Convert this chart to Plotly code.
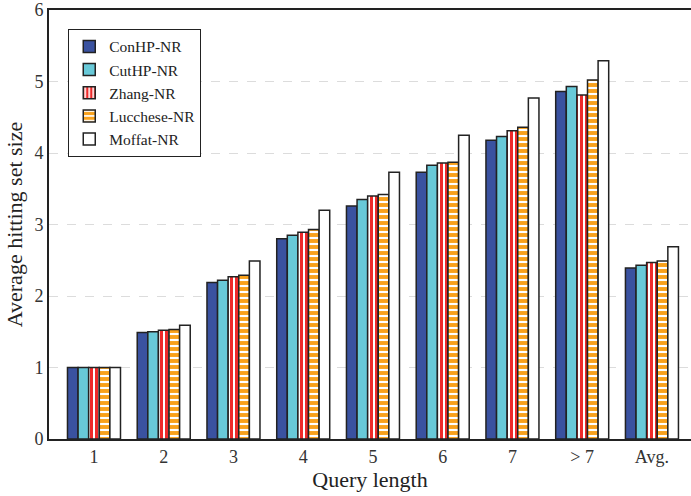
import plotly.graph_objects as go

categories = ["1", "2", "3", "4", "5", "6", "7", "> 7", "Avg."]
conhp = [1.00, 1.49, 2.19, 2.80, 3.26, 3.73, 4.18, 4.86, 2.39]
cuthp = [1.00, 1.50, 2.22, 2.85, 3.35, 3.83, 4.23, 4.93, 2.43]
zhang = [1.00, 1.52, 2.27, 2.89, 3.40, 3.86, 4.31, 4.81, 2.47]
lucchese = [1.00, 1.53, 2.29, 2.93, 3.42, 3.87, 4.36, 5.02, 2.49]
moffat = [1.00, 1.59, 2.49, 3.20, 3.73, 4.25, 4.77, 5.29, 2.69]

outline = dict(color="#222222", width=1.5)
font_family = "Liberation Serif"

fig = go.Figure()
fig.add_bar(name="ConHP-NR", x=categories, y=conhp,
            marker=dict(color="#3a52a0", line=outline))
fig.add_bar(name="CutHP-NR", x=categories, y=cuthp,
            marker=dict(color="#68c9d8", line=outline))
fig.add_bar(name="Zhang-NR", x=categories, y=zhang,
            marker=dict(color="white", line=outline,
                        pattern=dict(shape="|", fgcolor="#ee2a2a", bgcolor="white",
                                     size=5, solidity=0.6, fillmode="replace")))
fig.add_bar(name="Lucchese-NR", x=categories, y=lucchese,
            marker=dict(color="white", line=outline,
                        pattern=dict(shape="-", fgcolor="#f9a11b", bgcolor="white",
                                     size=6, solidity=0.65, fillmode="replace")))
fig.add_bar(name="Moffat-NR", x=categories, y=moffat,
            marker=dict(color="white", line=outline))

fig.update_layout(
    width=691, height=496,
    margin=dict(l=49, r=0, t=10, b=57),
    paper_bgcolor="white", plot_bgcolor="white",
    barmode="group", bargap=0.24, bargroupgap=0,
    font=dict(family=font_family, color="#222222", size=18),
    showlegend=True,
    legend=dict(x=0.03, y=0.956, xanchor="left", yanchor="top",
                bgcolor="white", bordercolor="#222222", borderwidth=1,
                font=dict(family=font_family, size=15.5, color="#222222"),
                tracegroupgap=0),
)
fig.update_xaxes(
    type="category", range=[-0.645, 8.56],
    showline=True, linecolor="#222222", linewidth=2, mirror=True,
    ticks="", showgrid=False,
    tickfont=dict(family=font_family, size=18, color="#333333"),
    title=dict(text="Query length", font=dict(family=font_family, size=22, color="#222222"),
               standoff=4),
)
fig.update_yaxes(
    range=[0, 6], dtick=1,
    showline=True, linecolor="#222222", linewidth=2, mirror=False,
    ticks="", showgrid=True, gridcolor="#dcdcdc", griddash="dash", gridwidth=1,
    zeroline=False,
    tickfont=dict(family=font_family, size=18, color="#333333"),
    title=dict(text="Average hitting set size", font=dict(family=font_family, size=22, color="#222222"),
               standoff=6),
)

fig.write_html("out.html")
